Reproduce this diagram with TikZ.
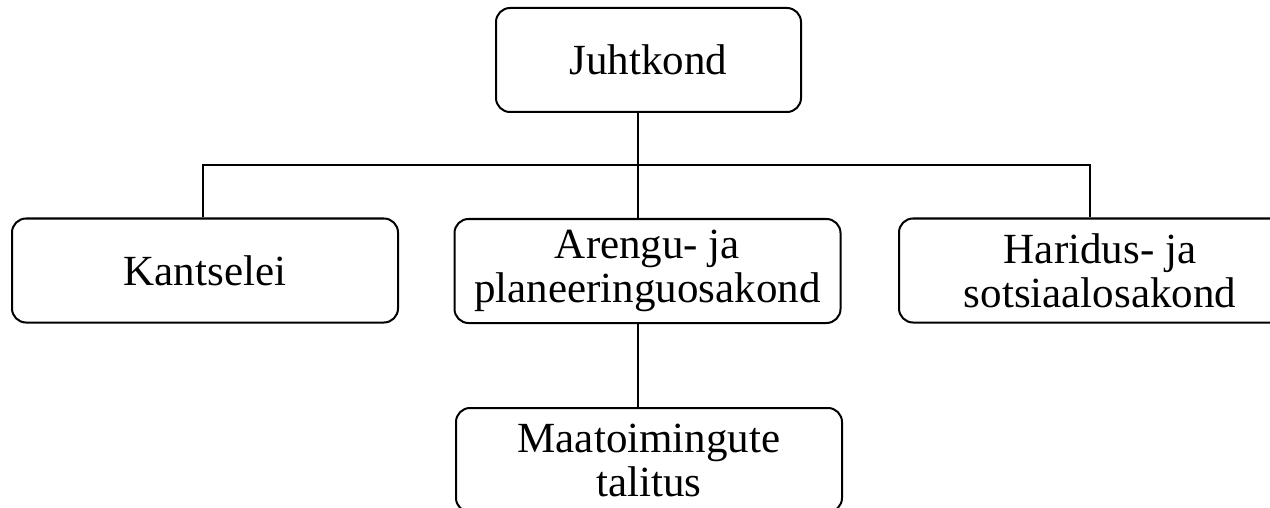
\documentclass[tikz,border=0pt]{standalone}
\usepackage{fontspec}
\setmainfont{Liberation Serif}
\usetikzlibrary{positioning, calc}

\begin{document}
\begin{tikzpicture}[
		x=0.5pt, y=-0.5pt,
		font=\fontsize{21.5}{22}\selectfont,
		yksus/.style={
			rectangle,
			rounded corners=7pt,
			draw,
			line width=1pt,
			minimum width=193pt,
			minimum height=52pt,
			inner sep=0pt,
			align=center
		},
		juhtyksus/.style={
			yksus,
			minimum width=152.5pt
		},
		joon/.style={
			line width=1pt
		}
		]
		
		\useasboundingbox (0,0) rectangle (1270,508);
		
		% Juhtkond
		\node[juhtyksus] (juht) at (648.5,60) {Juhtkond};
		
		% Osakonnad
		\node[yksus] (kants) at (205,270.5) {Kantselei};
		
		\node[yksus] (aren) at (647.5,271)
		{Arengu- ja\\
			planeeringuosakond};
		
		\node[yksus, minimum width=201pt] (hari) at (1100,270.5)
		{Haridus- ja\\
			sotsiaalosakond};
		
		% Talitus
		\node[yksus] (maat) at (649,460)
		{Maatoimingute\\
			talitus};
		
		% Harud
		\coordinate (telg) at (638,165);
		\coordinate (vasak) at (203,165);
		\coordinate (parem) at (1090,165);
		
		\draw[joon] (juht.south -| telg) -- (aren.north -| telg);
		\draw[joon] (kants.north -| vasak) -- (vasak) -- (parem) -- (hari.north -| parem);
		\draw[joon] (aren.south -| telg) -- (maat.north -| telg);
		
	\end{tikzpicture}
\end{document}
